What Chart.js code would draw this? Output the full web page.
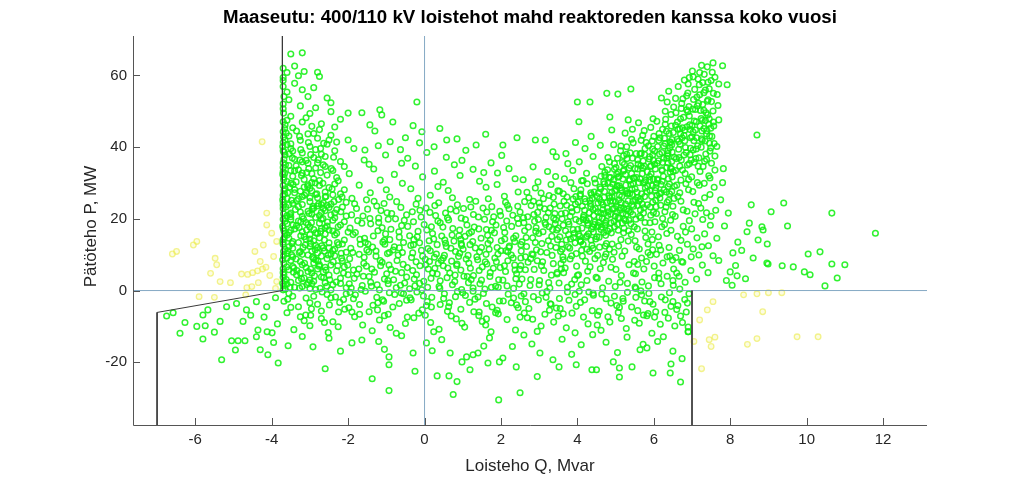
<!DOCTYPE html>
<html>
<head>
<meta charset="utf-8">
<script src="https://cdn.jsdelivr.net/npm/chart.js@4.4.1/dist/chart.umd.min.js"></script>
<style>
  html, body { margin: 0; padding: 0; background: #fff; }
</style>
</head>
<body>
<canvas id="pq" width="1024" height="478"></canvas>
<script>
const titleText = 'Maaseutu: 400/110 kV loistehot mahd reaktoreden kanssa koko vuosi';
const xLabel = 'Loisteho Q, Mvar';
const yLabel = 'Pätöteho P, MW';

const xTicks = [-6, -4, -2, 0, 2, 4, 6, 8, 10, 12];
const yTicks = [-20, 0, 20, 40, 60];
const xRange = [-7.63, 13.15];
const yRange = [-37.5, 71];

// limit curve corners (Q, P pairs)
const limitLeft = [-3.72,71, -3.72,0, -7,-6.1, -7,-37.5];
const limitRight = [7,0, 7,-37.5];

const greenLeft = [
  -3.65,0.4, -3.2,1.1, -2.85,0.3, -2.4,1.6, -2.05,0.8, -3.5,2.3, -3.0,2.9, -2.6,2.2, -2.2,3.4, -3.7,3.7, -3.35,4.4, -2.95,4.9, -2.7,3.8, -2.3,5.5, -3.55,5.8, -3.1,6.4, -2.8,6.0, -2.45,7.1, -2.1,6.6, -3.68,7.5, -3.25,8.1, -2.9,7.7, -2.55,8.9, -2.15,8.3, -3.45,9.4, -3.05,9.9, -2.7,9.6, -3.6,1.8, -3.3,2.8, -2.95,1.9, -2.5,4.3, -3.15,3.5, -3.45,6.7, -2.65,5.2, -3.6,9.0, -2.35,9.7, -3.05,5.3, -2.75,7.2, -3.4,0.9, -2.2,2.0, -3.5,8.4, -2.85,8.6, -2.0,4.4, -3.2,7.2, -3.7,5.0, -2.45,0.2, -3.0,0.6, -2.6,6.5, -3.25,4.9, -2.9,2.6,
  -3.6,10.3, -3.25,10.9, -2.8,10.5, -2.4,11.2, -2.05,10.7, -3.45,11.8, -3.0,12.3, -2.65,11.9, -2.25,12.8, -3.7,12.9, -3.3,13.4, -2.9,13.9, -2.5,13.3, -2.1,14.1, -3.55,14.6, -3.15,15.0, -2.75,14.7, -2.35,15.5, -3.65,15.9, -3.2,16.4, -2.85,16.1, -2.5,16.9, -2.0,16.3, -3.4,17.2, -3.0,17.7, -2.6,17.5, -2.2,18.3, -3.6,18.6, -3.1,19.0, -2.75,18.8, -2.4,19.6, -3.5,19.8, -2.95,11.0, -3.55,12.2, -2.45,10.2, -3.1,14.3, -2.6,15.8, -3.35,18.1, -2.1,19.2, -3.7,17.4, -2.85,12.6, -3.2,10.1, -2.3,16.0, -3.5,16.8, -2.7,19.9, -3.0,15.6, -3.65,11.5, -2.15,13.0, -3.3,19.4, -2.55,18.0, -3.45,13.7, -2.9,17.0, -3.7,14.2, -2.35,11.6, -3.05,18.4,
  -3.65,20.2, -3.2,20.7, -2.85,20.4, -2.45,21.1, -2.05,20.8, -3.5,21.6, -3.05,22.1, -2.7,21.8, -2.3,22.6, -3.7,22.9, -3.3,23.4, -2.9,23.0, -2.55,23.8, -2.15,23.3, -3.45,24.3, -3.0,24.8, -2.65,24.5, -2.25,25.4, -3.6,25.7, -3.2,26.2, -2.8,25.9, -2.4,26.7, -3.4,27.3, -2.95,27.8, -2.6,27.5, -2.1,28.1, -3.65,28.4, -3.15,28.9, -2.75,29.3, -2.35,29.7, -3.5,29.9, -2.95,21.3, -3.55,23.9, -2.45,24.1, -3.35,25.1, -2.85,26.8, -3.7,26.6, -2.2,27.0, -3.05,29.5, -2.5,28.7, -3.25,21.9, -2.65,22.9, -3.6,20.9, -2.05,24.6, -3.4,28.2, -2.8,23.6, -3.1,27.1, -2.35,20.3, -3.7,24.7, -2.6,26.1,
  -3.6,30.4, -3.15,31.0, -2.75,30.7, -2.3,31.5, -3.45,31.9, -2.95,32.6, -2.55,32.2, -3.7,33.1, -3.3,33.7, -2.85,34.2, -2.4,33.5, -3.55,34.9, -3.05,35.5, -2.65,35.1, -2.2,36.0, -3.4,36.6, -2.9,37.1, -3.65,37.8, -3.2,38.4, -2.7,38.0, -2.35,39.0, -3.5,39.6, -3.0,40.2, -2.55,40.8, -3.7,41.3, -3.25,41.9, -2.8,42.5, -3.55,43.1, -3.05,43.7, -2.45,43.3, -3.35,44.5, -2.75,44.9, -3.65,42.0, -2.1,34.6, -3.1,36.3, -2.6,37.4, -3.45,38.9, -2.95,30.1, -3.7,35.6, -2.3,41.4, -3.2,32.8, -2.85,39.3, -3.6,40.7, -2.5,42.0, -3.4,33.4,
  -3.65,46.2, -3.2,47.0, -2.7,46.5, -2.2,47.8, -3.5,48.6, -3.0,49.4, -2.45,49.9, -3.7,50.7, -3.25,51.5, -2.85,51.0, -2.45,52.4, -3.55,53.2, -3.05,54.1, -3.6,55.4, -3.2,56.0, -2.9,56.6, -3.4,57.8, -3.7,58.6, -3.3,59.9, -3.6,60.8, -2.8,60.9, -2.75,59.7, -3.15,61.1, -3.4,62.6, -3.7,62.0, -3.5,66.0, -3.2,66.3, -2.55,53.7, -2.0,49.5, -2.35,45.6,
  -3.52,0.9, -3.08,1.7, -2.73,0.6, -2.31,2.4, -3.66,2.6, -3.22,3.3, -2.88,4.1, -2.48,3.0, -2.12,4.9, -3.43,5.1, -2.98,6.0, -2.58,5.7, -2.27,6.9, -3.61,6.6, -3.14,7.6, -2.79,8.2, -2.39,8.0, -3.36,8.8, -2.93,9.3, -2.52,9.9, -3.69,9.7, -2.18,10.4, -3.28,10.6, -2.86,11.4, -2.5,11.9, -3.58,11.1, -3.12,12.7, -2.69,12.5, -2.28,13.4, -3.47,13.1, -3.0,14.4, -2.62,14.1, -3.67,14.8, -3.24,15.3, -2.8,15.9, -2.4,16.6, -3.55,16.2, -3.09,16.9, -2.7,17.3, -2.26,17.8, -3.44,18.3, -2.96,18.9, -2.54,19.1, -3.65,19.3, -3.17,20.0, -2.75,20.9, -2.35,21.6, -3.5,20.6, -3.02,21.5, -2.6,22.3, -2.19,22.0, -3.38,22.6, -2.92,23.5, -2.5,23.2, -3.63,23.3, -3.2,24.0, -2.77,24.2, -2.37,24.8, -3.48,25.2, -3.0,25.9, -2.58,26.3, -2.16,26.1, -3.66,26.9, -3.25,27.7, -2.82,27.0, -2.42,28.3, -3.53,28.8, -3.06,29.0, -2.66,29.9, -2.26,30.6, -3.36,30.3, -2.9,31.2, -3.68,31.6, -3.22,32.1, -2.72,32.9, -2.44,34.0, -3.5,33.5, -3.03,34.0, -2.6,34.6, -3.64,35.1, -3.2,35.9, -2.78,36.5, -2.38,37.2, -3.46,37.0, -2.98,37.9, -3.68,38.6, -3.24,39.3, -2.72,39.6, -3.5,40.9, -3.04,41.3, -2.64,41.1, -3.62,43.9, -3.27,43.0, -2.9,43.8, -3.45,45.4, -2.95,45.8, -3.6,47.5, -3.1,48.2,
  -3.7,0.2, -3.69,1.3, -3.71,2.0, -3.68,4.4, -3.7,6.1, -3.71,8.6, -3.69,10.9, -3.7,13.5, -3.68,16.7, -3.71,18.0, -3.7,19.9, -3.69,21.4, -3.7,23.8, -3.71,25.4, -3.68,27.8, -3.7,29.3, -3.69,30.9, -3.71,32.4, -3.7,34.3, -3.68,36.6, -3.7,39.0, -3.71,40.2, -3.69,42.8, -3.7,44.3, -3.66,45.2, -3.7,47.1, -3.69,49.5, -3.7,52.0, -3.68,54.1, -3.7,56.9, -3.7,59.4
];

const greenMid = [
  -1.92,0.7, -1.41,2.3, -1.18,0.2, -0.63,1.5, -0.47,3.8, 0.08,0.9, 0.41,2.7, 0.97,0.3, 1.22,3.1, 1.86,1.2, 2.33,0.6, 2.05,2.9,
  -1.77,4.6, -1.05,3.2, -0.88,5.9, -0.21,4.4, 0.27,6.2, 0.66,4.9, 1.43,5.6, 1.71,3.9, 2.41,4.7, -1.52,6.8, -0.56,7.3,
  0.13,8.1, 0.84,7.0, 1.09,8.8, 1.63,7.4, 2.18,8.3, -1.96,8.9, -1.27,9.6, -0.34,9.2, 0.52,9.8, 1.37,9.4, 2.27,9.9,
  -1.63,1.4, -0.95,1.9, -0.02,2.6, 0.73,1.6, 1.58,0.4, 2.48,1.8, -1.31,5.1, -0.12,6.9, 0.95,5.7, 1.98,6.4,
  -0.72,8.4, 0.36,7.6, 1.84,9.1, -1.84,3.4, -0.39,0.5, 0.59,3.6, 1.15,2.2, 2.12,5.3, -1.11,7.9, 0.21,4.9,
  -1.58,9.3, -0.81,3.0, 1.51,6.6, 0.02,8.7, 2.36,7.1, -0.25,1.3, 1.28,4.2, -1.72,6.0, 0.89,9.5, 1.93,0.9,
  -1.88,10.6, -1.36,12.1, -0.97,10.3, -0.55,13.4, -0.08,11.2, 0.33,12.8, 0.81,10.9, 1.26,13.7, 1.69,11.5, 2.22,12.4,
  -1.69,14.3, -1.02,15.8, -0.66,14.9, -0.17,16.5, 0.45,15.2, 0.92,16.9, 1.48,14.6, 1.83,16.1, 2.39,15.3,
  -1.95,17.4, -1.41,18.6, -0.88,17.1, -0.29,19.2, 0.18,17.8, 0.63,19.7, 1.11,18.3, 1.57,19.9, 2.07,17.6,
  -1.61,20.8, -1.14,22.3, -0.47,21.1, 0.04,23.0, 0.55,21.6, 1.02,22.9, 1.41,20.5, 1.97,22.1, 2.44,23.5,
  -1.83,24.2, -1.25,23.6, -0.73,24.8, -0.12,22.4, 0.37,24.5, 0.86,23.9, 1.34,24.9, 1.76,23.4,
  -1.51,11.3, -0.79,12.2, 0.12,13.9, 0.69,11.8, 1.49,12.0, 2.01,13.9, -1.22,16.7, -0.39,15.3, 0.74,17.3, 1.23,16.4, 2.15,19.4,
  -1.75,19.5, -0.95,19.9, 0.29,20.9, 0.96,20.2, 1.81,20.6, -1.49,22.7, -0.22,24.1, 1.63,21.9, 2.31,21.0,
  -1.09,13.5, -0.31,10.5, 0.53,14.1, 1.06,15.1, 1.92,10.2, 2.28,17.9, -1.87,15.6, -0.6,18.1, 0.41,18.9, 1.3,17.7,
  -0.86,21.5, 0.21,15.9, 1.62,17.0, -1.32,24.9, 0.68,22.7, 2.12,24.6, -0.01,18.4, -1.68,12.9, 0.97,12.6, 1.72,14.0,
  -1.9,25.7, -1.42,27.3, -0.91,26.1, -0.36,28.4, 0.15,26.6, 0.62,27.9, 1.18,25.4, 1.61,28.8, 2.09,26.3, 2.45,27.5,
  -1.71,29.4, -1.16,30.8, -0.58,29.9, -0.05,31.7, 0.49,30.2, 0.93,32.1, 1.44,30.5, 1.9,29.6, 2.37,31.2,
  -1.97,32.6, -1.33,33.9, -0.79,32.4, -0.24,34.7, 0.26,33.3, 0.78,35.1, 1.27,33.8, 1.74,35.6, 2.21,34.0,
  -1.58,36.4, -1.02,37.8, -0.44,36.9, 0.06,38.5, 0.57,37.2, 1.08,39.1, 2.02,37.7,
  -1.85,39.6, -1.21,40.4, -0.63,39.3, -0.13,41.2, 0.58,42.0, 0.85,42.3, 1.35,40.6, 2.05,40.6, 2.42,42.6,
  -1.56,39.2, -0.9,41.5, -0.07,44.3, -0.5,42.6, -1.43,46.2, -0.83,47.0, -1.64,49.6, -1.17,50.4, -1.12,49.0, -0.2,52.6,
  -2.0,42.0, -1.3,44.5, -0.3,46.0, 0.4,45.2, 1.6,43.6, -1.0,28.1, 0.35,29.0, 1.55,32.9, -0.6,35.5, 0.98,36.3, 1.91,32.8, 0.25,40.1, -1.45,35.2,
  -1.97,1.9, -1.66,0.3, -1.45,3.9, -1.24,1.6, -0.99,4.7, -0.74,0.8, -0.52,2.1, -0.31,5.6, -0.07,0.2, 0.17,3.4, 0.38,1.1, 0.61,6.3, 0.79,2.5, 1.03,4.0, 1.27,0.7, 1.49,2.9, 1.72,5.0, 1.94,3.0, 2.16,1.3, 2.39,3.3,
  -1.86,5.7, -1.59,7.6, -1.38,6.0, -1.16,8.4, -0.93,7.1, -0.69,9.9, -0.45,6.4, -0.22,8.0, 0.03,7.2, 0.26,9.3, 0.49,6.9, 0.71,8.2, 0.92,10.4, 1.16,7.7, 1.39,8.6, 1.61,10.1, 1.88,8.0, 2.09,6.9, 2.32,9.1, 2.49,5.9,
  -1.93,11.8, -1.71,10.1, -1.48,13.0, -1.27,11.0, -1.04,12.9, -0.82,11.3, -0.58,10.6, -0.36,12.6, -0.13,13.3, 0.09,11.7, 0.31,10.2, 0.57,12.3, 0.77,13.8, 1.01,11.5, 1.19,12.8, 1.44,10.8, 1.66,13.1, 1.9,12.0, 2.13,11.1, 2.36,13.6,
  -1.81,16.2, -1.57,14.6, -1.34,15.2, -1.11,17.5, -0.91,14.2, -0.67,16.4, -0.44,17.9, -0.19,15.0, 0.06,16.9, 0.24,14.4, 0.48,17.7, 0.72,15.5, 0.95,14.3, 1.17,16.0, 1.42,17.2, 1.65,15.4, 1.87,18.3, 2.1,16.2, 2.33,14.6, 2.46,18.7,
  -1.91,21.1, -1.64,18.8, -1.43,20.1, -1.2,19.0, -0.98,21.7, -0.76,20.0, -0.53,19.6, -0.32,22.0, -0.09,20.5, 0.14,21.8, 0.35,19.4, 0.6,20.3, 0.83,22.2, 1.07,19.8, 1.28,21.2, 1.53,23.0, 1.78,19.2, 1.99,20.9, 2.21,22.8, 2.43,20.1,
  -1.78,22.9, -1.52,25.3, -1.06,24.3, -0.62,23.2, -0.17,25.7, 0.27,23.7, 0.73,25.9, 1.21,23.3, 1.67,25.6, 2.17,23.8
];

const greenBanana = [
  2.55,3.2, 2.71,7.9, 2.93,11.4, 3.12,5.6, 3.34,9.8, 3.48,14.2, 2.62,16.7, 2.88,19.3, 3.07,13.1, 3.26,17.8, 3.41,21.5, 2.67,12.3, 2.99,15.9, 3.18,20.4, 3.39,24.1, 2.79,23.7, 3.05,27.2, 3.31,29.6, 2.58,30.9, 2.84,34.5, 3.22,33.2, 3.45,37.3, 3.36,38.7, 2.9,42.0, 3.16,42.0,
  2.52,9.1, 2.76,1.4, 3.01,2.8, 3.28,0.7, 3.47,4.6, 2.64,5.8, 2.95,8.3, 3.2,10.6, 3.44,12.0, 2.83,14.7, 3.1,16.4, 3.33,15.1, 2.6,18.9, 2.86,21.2, 3.14,22.8, 3.42,18.6, 2.73,25.9, 3.0,24.4, 3.26,26.5, 2.5,21.9, 3.49,27.8, 2.97,30.3, 2.68,27.4,
  3.06,6.9, 3.37,7.5, 2.81,10.2, 3.24,13.9, 2.55,13.6, 3.46,16.9, 2.92,17.5, 3.15,19.0, 2.7,20.6, 3.38,20.2, 3.02,23.3, 2.62,24.8, 3.29,23.0, 2.9,28.6, 3.43,31.8,
  3.52,2.1, 3.68,6.3, 3.85,9.7, 4.03,4.4, 4.21,8.2, 4.38,12.6, 3.59,12.9, 3.77,15.6, 3.94,13.3, 4.12,17.4, 4.29,15.8, 4.46,19.1, 3.63,18.2, 3.81,20.7, 3.99,22.5, 4.17,21.0, 4.34,24.3, 3.55,23.6, 3.73,26.1, 3.91,28.4, 4.08,26.9, 4.26,29.8, 4.44,27.5, 3.66,31.2, 3.88,33.5, 4.05,35.9, 4.24,32.7, 4.41,37.4, 3.7,38.2, 4.0,52.6, 4.33,52.6, 4.04,47.1, 3.95,41.3, 4.36,43.0,
  3.57,7.5, 3.74,0.9, 3.93,3.1, 4.1,1.6, 4.27,5.4, 4.49,3.7, 3.62,9.4, 3.8,11.8, 3.97,10.3, 4.15,12.9, 4.32,10.9, 4.48,14.4, 3.54,15.0, 3.71,14.1, 3.89,17.0, 4.06,15.2, 4.23,19.6, 4.4,17.8, 3.6,20.0, 3.78,18.5, 3.96,19.8, 4.13,23.6, 4.31,21.7, 4.47,22.9, 3.65,24.9, 3.84,23.1, 4.02,24.7, 4.19,25.6, 4.37,26.8, 3.53,27.7, 3.83,30.1, 4.11,30.6, 4.45,31.1, 3.75,35.4, 4.2,39.6,
  3.69,16.7, 3.9,14.8, 4.08,13.7, 4.28,18.2, 4.42,16.3, 3.58,21.4, 3.86,22.0, 4.16,20.4, 4.35,23.4, 4.01,17.1, 3.76,12.2, 4.25,11.5, 3.64,5.0, 4.46,8.9, 4.09,28.1, 3.96,26.2,
  4.52,3.4, 4.68,7.8, 4.84,11.5, 5.01,5.9, 5.17,9.6, 5.33,13.8, 5.49,8.1, 4.57,14.9, 4.73,18.3, 4.89,16.1, 5.06,20.2, 5.22,17.4, 5.39,21.9, 4.61,21.6, 4.77,24.5, 4.93,22.8, 5.1,26.6, 5.26,24.1, 5.43,28.3, 4.55,27.2, 4.71,29.8, 4.87,31.5, 5.04,29.1, 5.2,33.3, 5.36,30.7, 4.64,34.6, 4.8,37.1, 4.97,35.4, 5.13,39.0, 5.3,36.8, 5.46,41.2, 4.77,55.0, 5.06,54.8, 5.4,56.2, 4.85,48.4, 5.33,47.6, 4.9,44.8, 5.25,43.9, 4.6,40.5,
  4.53,9.8, 4.66,0.8, 4.82,2.6, 4.99,1.1, 5.15,4.2, 5.31,2.0, 5.47,4.9, 4.6,6.1, 4.75,10.2, 4.92,8.7, 5.08,12.4, 5.24,11.0, 5.41,15.6, 4.58,12.1, 4.74,15.4, 4.91,13.0, 5.07,16.8, 5.23,19.9, 5.4,18.6, 4.63,17.7, 4.79,20.9, 4.96,19.3, 5.12,22.4, 5.28,21.3, 5.45,24.9, 4.67,23.9, 4.83,26.4, 5.0,24.7, 5.16,28.0, 5.32,26.9, 5.48,31.4, 4.69,30.3, 4.86,28.9, 5.03,32.5, 5.19,31.1, 5.35,34.2, 4.72,33.0, 5.05,36.9, 5.38,38.4, 4.95,40.7, 5.44,45.0,
  4.56,19.0, 4.81,22.0, 5.09,25.3, 5.27,29.4, 5.42,32.6, 4.7,26.0, 4.98,27.8, 5.21,23.0, 5.37,27.1, 4.88,18.9, 5.14,14.2, 4.62,31.9, 5.29,38.0, 5.01,34.3, 4.76,13.1, 5.45,21.2, 4.93,29.7, 5.18,35.7, 4.54,24.4, 5.34,16.7,
  5.52,4.7, 5.68,9.1, 5.85,13.0, 6.01,6.8, 6.18,11.3, 6.34,15.9, 6.49,8.5, 5.57,17.2, 5.73,21.6, 5.9,18.9, 6.06,23.4, 6.23,20.1, 6.39,25.2, 5.61,25.0, 5.78,28.6, 5.94,26.3, 6.11,30.8, 6.27,28.1, 6.43,33.0, 5.55,31.5, 5.71,34.2, 5.88,36.7, 6.04,33.9, 6.21,38.5, 6.37,35.6, 5.64,38.1, 5.8,41.3, 5.97,39.5, 6.14,43.8, 6.3,41.0, 6.46,45.9, 5.75,44.6, 6.08,47.2, 6.35,52.6, 6.3,50.0, 6.45,49.1, 5.92,45.5, 6.2,53.7, 5.6,46.8,
  5.53,0.6, 5.69,2.4, 5.86,1.3, 6.02,3.6, 6.19,1.9, 6.35,4.0, 6.5,2.8, 5.58,7.3, 5.74,6.0, 5.91,9.9, 6.07,10.1, 6.24,7.7, 6.4,12.0, 5.62,11.6, 5.79,14.8, 5.95,16.3, 6.12,15.0, 6.28,18.4, 6.44,19.6, 5.66,20.3, 5.83,23.9, 5.99,21.8, 6.16,25.8, 6.32,23.3, 6.47,27.6, 5.56,27.4, 5.72,30.0, 5.89,31.8, 6.05,28.7, 6.22,33.4, 6.38,31.2, 5.59,35.3, 5.76,37.9, 5.93,34.8, 6.1,40.2, 6.26,36.9, 6.42,39.8, 5.67,41.9, 6.0,43.0, 6.33,44.4, 6.48,42.1,
  5.51,13.9, 5.77,16.6, 6.03,19.2, 6.29,22.0, 5.65,22.5, 5.97,24.6, 6.15,27.0, 6.41,29.7, 5.84,29.1, 6.09,35.5, 6.36,37.6, 5.7,32.6, 6.25,31.9, 5.96,14.2, 6.45,16.8, 5.81,8.1, 6.13,4.9,
  6.52,6.0, 6.67,11.2, 6.83,16.3, 6.98,9.4, 7.13,14.7, 7.28,19.8, 7.43,12.5, 6.56,20.7, 6.71,24.9, 6.87,22.1, 7.02,27.6, 7.17,24.3, 7.32,29.9, 7.47,26.8, 6.6,29.4, 6.75,33.6, 6.91,31.0, 7.06,35.8, 7.21,33.2, 7.36,38.1, 7.51,35.5, 6.54,37.2, 6.69,40.8, 6.85,38.5, 7.0,42.9, 7.15,40.4, 7.31,45.2, 7.46,43.1, 6.63,45.0, 6.78,48.3, 6.94,46.2, 7.09,50.5, 7.24,48.0, 7.4,52.8, 7.55,50.1, 6.73,52.2, 6.89,55.1, 7.04,53.3, 7.19,57.4, 7.35,55.9, 7.5,58.6, 6.8,58.7, 7.03,59.6, 7.4,62.4, 7.55,63.5, 7.8,62.7, 7.92,57.4, 7.2,60.8, 7.6,59.5, 7.66,54.7, 7.7,47.6, 7.58,41.0,
  6.51,1.5, 6.66,4.0, 6.82,2.3, 6.97,5.6, 7.12,3.2, 7.27,7.1, 7.42,5.0, 6.58,9.2, 6.73,8.1, 6.88,12.9, 7.03,11.6, 7.18,9.9, 7.33,15.8, 7.48,18.2, 6.62,15.1, 6.77,17.9, 6.93,19.5, 7.08,21.4, 7.23,23.0, 7.38,21.7, 6.53,25.7, 6.68,27.3, 6.84,29.8, 6.99,31.7, 7.14,30.1, 7.29,34.6, 7.44,32.0, 6.57,33.5, 6.72,36.4, 6.88,35.0, 7.03,39.2, 7.18,37.0, 7.34,41.7, 7.49,39.8, 6.65,41.6, 6.81,44.7, 6.96,42.6, 7.11,47.1, 7.26,44.5, 7.41,49.0, 6.7,47.9, 6.92,51.3, 7.13,54.0, 7.28,51.9, 7.45,56.3, 7.57,45.9,
  4.15,19.8, 4.41,22.6, 4.57,20.5, 4.86,24.9, 5.02,28.1, 5.31,27.2, 5.47,31.4, 5.76,30.3, 5.91,34.6, 6.21,33.7, 6.37,38.2, 6.66,37.1, 6.81,41.8, 7.12,42.6, 7.27,47.5,
  4.25,15.3, 4.44,18.4, 4.73,18.8, 4.97,22.9, 5.13,23.1, 5.44,26.8, 5.58,26.0, 5.89,30.8, 6.07,29.9, 6.34,34.3, 6.51,33.2, 6.79,37.8, 6.95,37.9, 7.25,42.3, 7.38,43.7,
  4.33,25.1, 4.52,26.2, 4.8,29.9, 5.04,29.3, 5.22,33.7, 5.51,34.0, 5.67,38.3, 5.97,37.8, 6.13,41.9, 6.42,41.5, 6.57,46.1, 6.87,45.7, 7.02,50.6, 7.31,50.3,
  4.07,14.0, 4.36,14.1, 4.62,17.0, 4.79,16.6, 5.1,20.3, 5.26,19.5, 5.58,23.7, 5.74,23.1, 6.04,27.9, 6.19,27.3, 6.48,31.7, 6.71,30.8, 6.93,35.4, 7.16,34.7, 7.47,38.9,
  2.53,11.0, 2.66,14.8, 2.78,8.9, 2.91,16.5, 3.04,10.8, 3.17,18.4, 3.3,12.4, 3.43,19.7, 3.56,10.9, 3.69,21.6, 3.82,14.4, 3.95,24.1, 2.59,20.3, 2.72,17.7, 2.85,24.9, 2.98,19.8, 3.11,25.6, 3.24,21.7, 3.37,26.0, 3.5,17.4, 3.63,27.0, 3.76,19.2, 3.89,25.5, 2.64,9.4, 2.87,5.9, 3.09,8.0, 3.32,4.3, 3.58,6.0, 3.81,8.8, 3.98,6.8,
  4.03,15.8, 4.11,11.2, 4.19,22.4, 4.27,18.8, 4.35,27.3, 4.43,20.9, 4.51,15.0, 4.59,28.9, 4.67,22.6, 4.75,19.3, 4.83,31.6, 4.91,26.1, 4.99,20.8, 4.07,26.4, 4.15,30.7, 4.23,14.9, 4.31,20.0, 4.39,25.7, 4.47,30.0, 4.55,18.1, 4.63,24.6, 4.71,27.6, 4.79,33.7, 4.87,21.3, 4.95,30.9, 4.05,19.3, 4.21,24.8, 4.37,17.2, 4.53,22.0, 4.69,16.2, 4.85,25.9, 4.97,17.8, 4.13,9.6, 4.41,11.8, 4.73,12.4, 4.96,10.7,
  5.02,23.6, 5.09,31.8, 5.16,26.2, 5.23,35.2, 5.3,22.7, 5.37,31.0, 5.44,36.9, 5.51,28.4, 5.58,33.9, 5.65,25.5, 5.72,36.1, 5.79,30.8, 5.86,40.4, 5.93,32.5, 5.99,36.3, 5.05,18.5, 5.12,28.6, 5.19,21.5, 5.26,32.4, 5.33,25.0, 5.4,29.5, 5.47,23.5, 5.54,38.2, 5.61,30.1, 5.68,27.0, 5.75,34.7, 5.82,27.6, 5.89,37.3, 5.96,29.2, 5.07,33.0, 5.21,16.1, 5.35,19.6, 5.49,17.8, 5.63,20.7, 5.77,19.0, 5.91,23.3, 5.14,40.3, 5.42,42.2, 5.71,43.3, 5.98,47.9, 5.55,12.1, 5.85,10.6,
  6.02,38.9, 6.09,31.1, 6.16,42.6, 6.23,35.7, 6.3,46.4, 6.37,39.0, 6.44,34.1, 6.51,44.1, 6.58,49.6, 6.65,39.4, 6.72,50.8, 6.79,43.3, 6.86,54.3, 6.93,48.7, 7.0,46.0, 7.07,56.1, 7.14,51.5, 7.21,45.9, 7.28,58.0, 7.35,47.4, 7.42,53.2, 7.49,45.3, 7.56,55.0,
  6.05,25.2, 6.12,36.2, 6.19,29.6, 6.26,40.3, 6.33,27.5, 6.4,43.8, 6.47,36.0, 6.54,29.1, 6.61,42.2, 6.68,34.7, 6.75,45.4, 6.82,32.6, 6.89,49.9, 6.96,39.7, 7.03,44.2, 7.1,36.8, 7.17,52.2, 7.24,40.0, 7.31,55.2, 7.38,36.6, 7.45,47.9, 7.52,43.0,
  6.07,21.5, 6.21,17.8, 6.35,24.6, 6.49,21.2, 6.63,26.2, 6.77,22.5, 6.91,28.1, 7.05,24.6, 7.19,29.4, 7.33,25.9, 7.47,31.4, 6.14,12.6, 6.42,9.6, 6.71,14.0, 6.99,17.2, 7.26,12.2, 7.5,20.7, 7.55,9.7, 7.58,28.8, 7.6,33.6, 7.62,22.4, 7.65,40.2, 7.68,51.6, 7.7,57.6
];

// the most crowded spots: upper banana, its middle, left column, low band
const greenCore = [
  6.31,47.8, 6.39,55.6, 6.44,41.3, 6.52,51.2, 6.59,36.8, 6.64,56.9, 6.7,43.7, 6.76,53.5, 6.83,39.9, 6.9,57.6, 6.95,44.9, 7.01,61.2, 7.06,47.3, 7.11,39.5, 7.16,59.0, 7.22,50.2, 7.27,41.9, 7.32,60.3, 7.37,49.6, 7.42,58.1, 7.46,41.1, 7.51,52.7, 7.56,47.0, 7.6,37.5, 6.48,38.6, 6.62,47.0, 6.74,42.6, 6.86,50.4, 6.98,36.4, 7.09,44.8, 7.2,54.6, 7.33,36.1, 7.44,46.4, 7.53,60.9, 6.57,53.6, 6.93,59.4, 7.25,62.8, 7.05,41.8, 6.68,45.1, 7.39,44.6,
  4.52,17.8, 4.58,25.5, 4.65,20.1, 4.72,32.1, 4.78,23.0, 4.85,17.2, 4.9,27.4, 4.97,33.8, 5.03,21.9, 5.1,29.2, 5.15,24.5, 5.21,37.6, 5.27,27.7, 5.34,22.2, 5.39,34.9, 5.46,29.8, 5.52,25.3, 5.58,36.4, 5.64,31.2, 5.7,24.1, 5.77,39.6, 5.83,33.1, 5.9,28.0, 5.96,41.7, 6.02,35.2, 6.09,26.6, 6.15,38.1, 6.22,30.5, 6.28,42.5, 6.34,36.9, 6.41,27.0, 6.47,40.7, 4.61,28.4, 4.84,35.9, 5.06,31.6, 5.29,40.1, 5.53,19.9, 5.76,26.2, 5.99,31.0, 6.23,45.0, 6.46,34.0, 4.7,21.5, 4.93,25.0, 5.18,18.8, 5.43,23.9, 5.66,34.8, 5.92,21.0, 6.18,23.8, 6.37,29.0, 6.5,23.5,
  -3.62,3.1, -3.34,5.6, -3.04,2.2, -2.76,6.8, -2.56,1.2, -3.48,10.0, -3.18,12.0, -2.9,8.9, -2.62,11.0, -3.6,15.5, -3.28,17.6, -2.98,13.1, -2.72,16.5, -3.52,21.2, -3.24,19.2, -2.94,22.7, -2.66,20.1, -3.58,27.3, -3.3,25.6, -3.0,28.5, -2.7,24.0, -3.44,29.6, -3.14,26.6, -2.86,30.0, -3.66,32.7, -3.36,34.8, -3.08,32.9, -2.8,35.6, -3.54,38.1, -3.26,36.4,
  -0.96,2.8, -0.6,5.0, -0.27,3.2, 0.1,6.0, 0.44,8.4, 0.8,4.3, 1.14,9.8, 1.45,1.9, 1.8,6.2, 2.18,10.8, 2.52,7.0, 2.9,13.4, 3.25,2.2, 3.6,11.5, 3.92,16.0, -1.46,10.8, -1.05,14.0, -0.66,11.9, -0.28,14.2, 0.15,11.1, 0.55,13.2, 0.9,15.3, 1.33,11.9, 1.75,16.8, 2.1,14.4, 2.52,12.8, 2.96,21.8, 3.35,17.0, 3.72,23.8, -1.2,20.2
];

// crowded band either side of P = 0
const greenBand = [
  -3.58,-2.4, -3.27,0.7, -2.96,-5.1, -2.64,3.6, -2.33,-1.8, -2.01,7.1, -1.7,-6.6, -1.39,1.2, -1.07,-3.0, -0.76,5.4, -0.45,-7.4, -0.13,2.0, 0.18,-4.6, 0.49,9.1, 0.81,-1.7, 1.12,3.9, 1.43,-6.0, 1.75,0.9, 2.06,-2.9, 2.37,5.7, 2.69,-7.6, 3.0,1.6, 3.31,-3.8, 3.63,8.6, 3.94,-1.1, 4.25,2.8, 4.57,-5.8, 4.88,6.5, 5.19,-2.2, 5.51,1.0, 5.82,-7.0, 6.13,3.4, 6.45,-4.4, 6.76,7.9,
  -3.42,6.3, -3.11,-6.8, -2.8,12.0, -2.49,-4.0, -2.17,9.0, -1.86,-2.3, -1.55,13.4, -1.23,-5.4, -0.92,10.6, -0.61,-0.7, -0.29,12.8, 0.02,-6.9, 0.33,4.6, 0.65,-3.4, 0.96,13.1, 1.27,-0.2, 1.59,8.0, 1.9,-5.5, 2.21,12.0, 2.53,-1.5, 2.84,10.0, 3.15,-6.6, 3.47,5.0, 3.78,-2.7, 4.09,13.7, 4.41,-0.8, 4.72,9.4, 5.03,-4.2, 5.35,7.2, 5.66,-0.1, 5.97,11.4, 6.29,-6.1, 6.6,4.9, 6.88,-3.5,
  -3.5,-4.7, -2.7,-7.8, -1.95,-0.5, -1.15,6.9, -0.35,-2.6, 0.4,0.6, 1.2,6.2, 2.0,11.1, 2.78,3.1, 3.55,-5.0, 4.33,6.6, 5.12,2.3, 5.9,-3.1, 6.68,0.4, -0.05,9.6, 1.62,-7.9, 3.2,-0.3, 4.8,-7.3, 6.35,9.4, -2.25,-6.0, 0.85,7.4, 2.45,-4.8, 4.0,4.2, 5.58,-5.6, -1.6,4.0, 3.85,1.8
];

const greenBelow = [
  -3.55,-0.8, -3.1,-2.1, -2.68,-0.4, -2.22,-3.3, -1.81,-1.2, -1.35,-4.1, -0.92,-0.6, -0.47,-2.7, -0.03,-1.5, 0.41,-3.9, 0.86,-0.3, 1.32,-2.4, 1.77,-4.6, 2.19,-1.0, 2.64,-3.1, 3.08,-0.7, 3.53,-2.2, 3.97,-4.4, 4.42,-1.3, 4.88,-3.5, 5.31,-0.5, 5.76,-2.9, 6.2,-1.8, 6.63,-4.2, 6.92,-0.9,
  -3.3,-4.5, -2.9,-1.6, -2.45,-2.0, -1.98,-4.8, -1.55,-0.2, -1.1,-2.6, -0.66,-3.6, -0.2,-0.4, 0.19,-1.9, 0.63,-4.5, 1.07,-1.4, 1.54,-0.8, 1.96,-2.9, 2.41,-4.0, 2.85,-1.7, 3.29,-3.7, 3.74,-0.4, 4.19,-2.6, 4.64,-1.0, 5.1,-4.7, 5.53,-1.9, 5.98,-3.8, 6.41,-0.6, 6.81,-2.5,
  -3.68,-3.0, -2.05,-0.9, -0.78,-1.1, 0.52,-0.9, 1.18,-3.3, 2.33,-2.1, 3.45,-4.9, 4.05,-0.2, 4.75,-2.3, 5.87,-0.8, 6.5,-3.1, -1.22,-3.4, 0.05,-4.2, 2.98,-2.6, 5.2,-3.0, -2.8,-3.8, 1.62,-3.6,
  -3.6,-6.2, -3.15,-8.4, -2.7,-5.7, -2.26,-10.1, -1.83,-7.3, -1.37,-11.2, -0.95,-6.6, -0.5,-9.2, -0.06,-5.4, 0.38,-10.8, 0.83,-7.9, 1.29,-5.9, 1.74,-11.5, 2.16,-8.1, 2.61,-6.3, 3.05,-9.9, 3.5,-7.1, 3.94,-11.8, 4.39,-5.6, 4.85,-8.8, 5.28,-10.6, 5.73,-6.8, 6.17,-9.4, 6.6,-5.3, 6.9,-11.5, 6.9,-10.2,
  -3.42,-10.9, -2.98,-6.9, -2.52,-11.7, -2.09,-5.2, -1.62,-9.6, -1.18,-8.2, -0.74,-11.9, -0.28,-7.6, 0.16,-8.9, 0.6,-5.8, 1.05,-10.2, 1.51,-8.6, 1.93,-6.5, 2.38,-11.0, 2.83,-8.0, 3.27,-5.5, 3.71,-10.4, 4.16,-7.4, 4.62,-11.1, 5.07,-6.1, 5.5,-8.3, 5.95,-11.9, 6.38,-7.7, 6.75,-8.9,
  -2.4,-8.7, -0.9,-10.3, 0.98,-9.1, 2.95,-11.4, 4.52,-9.6, 6.05,-5.9, -1.45,-5.9, 0.24,-11.5, 3.86,-6.3, 5.62,-9.1, 1.42,-7.0, -3.0,-9.8,
  -3.57,-15.4, -2.92,-15.7, -1.9,-14.6, -1.64,-13.8, -1.2,-14.2, -0.93,-18.5, -0.3,-17.4, 0.2,-16.8, 0.67,-17.4, 0.98,-19.9, 1.1,-18.5, 1.27,-17.9, 1.4,-17.4, 2.05,-18.8, 1.96,-19.9, 2.81,-14.9, 3.02,-17.4, 3.36,-19.3, 5.64,-16.5, 5.82,-16.0, 5.72,-15.0, 6.25,-12.9, 6.9,-11.5, 6.74,-19.0, 4.94,-19.9,
  -3.2,-12.8, -2.5,-13.3, -2.2,-16.9, -0.6,-12.6, 0.45,-13.7, 1.7,-13.2, 2.3,-15.6, 2.6,-12.4, 3.6,-13.6, 4.1,-15.1, 4.4,-12.3, 4.75,-14.4, 5.3,-13.0, 6.1,-14.2, 6.5,-16.9, 3.85,-17.8, 1.55,-15.5, -1.05,-16.4, 0.05,-14.6, 5.05,-17.3,
  -3.83,-20.2, -1.37,-24.6, -0.93,-27.9, -0.93,-20.7, 0.75,-29.0, 1.94,-30.5, 2.5,-28.5, 0.33,-23.8, 0.64,-23.8, 0.85,-25.4, 1.19,-22.1, 1.66,-20.2, 2.4,-21.3, 3.52,-21.3, 3.97,-20.7, 4.38,-22.1, 4.5,-22.1, 5.1,-24.1, 5.1,-21.6, 5.43,-21.3, 5.98,-23.0, 6.43,-23.0, 6.7,-25.5, 6.45,-20.5, 2.95,-24.0, -2.6,-21.8, -0.25,-22.5,
  -6.75,-7.1, -6.58,-6.2, -6.27,-8.9, -5.96,-10.0, -5.74,-9.8, -5.8,-13.5, -5.31,-19.3, -5.05,-14.0, -4.88,-14.0, -4.7,-14.0, -5.67,-5.4, -5.8,-6.8, -5.18,-4.5, -4.92,-3.6, -4.66,-5.4, -4.4,-3.1, -4.13,-4.5, -4.36,-11.0, -4.12,-11.5, -3.99,-11.8, -4.3,-16.5, -4.1,-17.9, -5.35,-8.6, -4.75,-8.6, -4.4,-12.9, -3.9,-2.0, -4.2,-7.4, -3.85,-9.3, -4.55,-6.9, -5.5,-11.6, -6.4,-11.9, -4.95,-16.6, -3.95,-14.5,
  -3.45,-1.6, -3.0,-3.4, -2.55,-1.1, -2.12,-2.5, -1.7,-3.9, -1.25,-1.9, -0.83,-4.6, -0.38,-2.0, 0.07,-3.1, 0.5,-2.2, 0.95,-5.2, 1.4,-1.8, 1.86,-6.2, 2.27,-3.4, 2.73,-5.0, 3.18,-1.9, 3.63,-6.5, 4.08,-3.3, 4.53,-6.9, 4.97,-1.6, 5.42,-4.6, 5.85,-6.4, 6.3,-2.6, 6.7,-7.1,
  -3.25,-7.3, -2.62,-8.9, -1.9,-6.0, -1.05,-7.0, -0.15,-6.3, 0.7,-7.1, 1.6,-9.6, 2.5,-7.4, 3.38,-8.8, 4.28,-9.3, 5.15,-7.8, 6.02,-7.4, 6.55,-9.9, -0.55,-0.9, 1.0,-0.6, 2.6,-0.9, 4.3,-0.4, 5.68,-1.2, 6.85,-6.0
];

const greenRight = [
  8.7,43.4, 8.55,23.9, 9.4,24.4, 9.07,22.0, 10.66,21.6, 11.8,16.0, 9.5,18.0, 8.5,18.8, 8.44,16.4, 8.83,17.8, 8.86,16.9, 8.73,14.1, 8.97,13.0, 10.04,10.2, 10.35,10.8, 10.66,7.4, 11.0,7.2, 9.65,6.6, 9.36,6.9, 8.99,7.4, 8.6,9.1, 9.94,5.2, 10.09,4.4, 10.48,1.3, 10.8,3.5, 8.96,7.7, 8.0,5.2, 8.18,4.1, 8.05,1.5, 8.07,10.5, 8.14,7.0, 8.2,13.5, 7.85,18.0, 7.95,21.6, 7.75,25.3, 7.8,30.1, 8.3,11.2, 7.9,2.8, 8.4,3.3, 7.7,8.4, 7.65,14.6, 7.82,34.0
];

// hours outside the limits
const yellowOut = [
  -6.49,10.9, -6.05,12.7, -5.96,13.7, -5.48,9.0, -5.44,7.2, -5.6,4.8, -5.35,2.5, -4.79,4.6, -4.63,4.5, -4.5,5.0, -4.37,5.5, -4.24,6.0, -4.15,6.5, -4.44,10.9, -4.3,8.1, -4.22,12.7, -4.13,21.6, -4.13,18.3, -4.0,16.0, -3.87,13.7, -4.52,1.1, -4.65,0.8, -4.35,2.2, -3.87,2.5, -5.08,2.2, -5.9,-1.7, -5.5,-1.9, -4.68,-1.2, -4.25,41.5, -6.6,10.2, -3.95,9.5, -4.05,4.2, -3.9,0.6,
  7.55,-3.1, 8.35,-1.2, 8.7,-0.9, 9.0,-0.6, 9.35,-0.6, 8.85,-5.9, 7.2,-8.2, 7.4,-5.4, 7.45,-13.7, 7.5,-15.6, 7.6,-13.0, 8.45,-15.0, 8.7,-13.4, 9.75,-12.9, 10.3,-12.9, 7.25,-21.8, 7.05,-14.2
];

function pts(flat) {
  const out = [];
  for (let i = 0; i < flat.length; i += 2) out.push({ x: flat[i], y: flat[i + 1] });
  return out;
}

Chart.defaults.font.family = "'Liberation Sans', Arial, sans-serif";

const greenStyle = {
  pointRadius: 2.8,
  pointBorderWidth: 1.5,
  pointBorderColor: 'rgba(20, 240, 20, 0.88)',
  pointBackgroundColor: 'rgba(0,0,0,0)',
  showLine: false,
  order: 5
};

// axes, inner ticks and texts in matlab style
const matlabLook = {
  id: 'matlabLook',
  afterDraw(chart) {
    const { ctx, chartArea: a, scales: { x, y } } = chart;
    ctx.save();
    ctx.strokeStyle = '#555';
    ctx.lineWidth = 1;
    ctx.beginPath();
    ctx.moveTo(a.left + 0.5, a.top);
    ctx.lineTo(a.left + 0.5, a.bottom + 0.5);
    ctx.lineTo(a.right, a.bottom + 0.5);
    xTicks.forEach(v => {
      const px = Math.round(x.getPixelForValue(v)) + 0.5;
      ctx.moveTo(px, a.bottom);
      ctx.lineTo(px, a.bottom - 7);
    });
    yTicks.forEach(v => {
      const py = Math.round(y.getPixelForValue(v)) + 0.5;
      ctx.moveTo(a.left, py);
      ctx.lineTo(a.left + 7, py);
    });
    ctx.stroke();

    ctx.textAlign = 'center';
    ctx.textBaseline = 'middle';
    ctx.fillStyle = '#000';
    ctx.font = "bold 18.7px 'Liberation Sans', Arial, sans-serif";
    ctx.fillText(titleText, (a.left + a.right) / 2, 18);
    ctx.fillStyle = '#262626';
    ctx.font = "17px 'Liberation Sans', Arial, sans-serif";
    ctx.fillText(xLabel, (a.left + a.right) / 2, 466);
    ctx.translate(91, (a.top + a.bottom) / 2 - 4);
    ctx.rotate(-Math.PI / 2);
    ctx.fillText(yLabel, 0, 0);
    ctx.restore();
  }
};

new Chart(document.getElementById('pq'), {
  type: 'scatter',
  data: {
    datasets: [
      { label: 'zero P', data: pts([xRange[0], 0, xRange[1], 0]), showLine: true, borderColor: 'rgba(120,160,190,0.9)', borderWidth: 1, pointRadius: 0, order: 1 },
      { label: 'zero Q', data: pts([0, yRange[0], 0, yRange[1]]), showLine: true, borderColor: 'rgba(120,160,190,0.9)', borderWidth: 1, pointRadius: 0, order: 1 },
      { label: 'limit left', data: pts(limitLeft), showLine: true, borderColor: '#3a3a3a', borderWidth: 1, pointRadius: 0, order: 0 },
      { label: 'limit right', data: pts(limitRight), showLine: true, borderColor: '#3a3a3a', borderWidth: 1, pointRadius: 0, order: 0 },
      { label: 'outside', data: pts(yellowOut), pointRadius: 2.8, pointBorderWidth: 1.3, pointBorderColor: 'rgba(235,235,70,0.6)', pointBackgroundColor: 'rgba(245,245,140,0.25)', order: 6 },
      { label: 'inside 1', data: pts(greenLeft), ...greenStyle },
      { label: 'inside 2', data: pts(greenMid), ...greenStyle },
      { label: 'inside 3', data: pts(greenBanana), ...greenStyle },
      { label: 'inside 4', data: pts(greenCore), ...greenStyle },
      { label: 'inside 5', data: pts(greenBand), ...greenStyle },
      { label: 'inside 6', data: pts(greenBelow), ...greenStyle },
      { label: 'inside 7', data: pts(greenRight), ...greenStyle }
    ]
  },
  options: {
    responsive: false,
    animation: false,
    layout: { padding: { top: 36, right: 97, left: 0, bottom: 0 } },
    plugins: {
      legend: { display: false },
      tooltip: { enabled: false },
      title: { display: false }
    },
    scales: {
      x: {
        type: 'linear',
        min: xRange[0],
        max: xRange[1],
        grid: { display: false, drawTicks: false },
        border: { display: false },
        ticks: { color: '#262626', font: { size: 15 }, padding: 6, maxRotation: 0, autoSkip: false },
        afterBuildTicks: s => { s.ticks = xTicks.map(v => ({ value: v })); },
        afterFit: s => { s.height = 53; }
      },
      y: {
        type: 'linear',
        min: yRange[0],
        max: yRange[1],
        grid: { display: false, drawTicks: false },
        border: { display: false },
        ticks: { color: '#262626', font: { size: 15 }, padding: 6, autoSkip: false },
        afterBuildTicks: s => { s.ticks = yTicks.map(v => ({ value: v })); },
        afterFit: s => { s.width = 133; }
      }
    }
  },
  plugins: [matlabLook]
});
</script>
</body>
</html>
